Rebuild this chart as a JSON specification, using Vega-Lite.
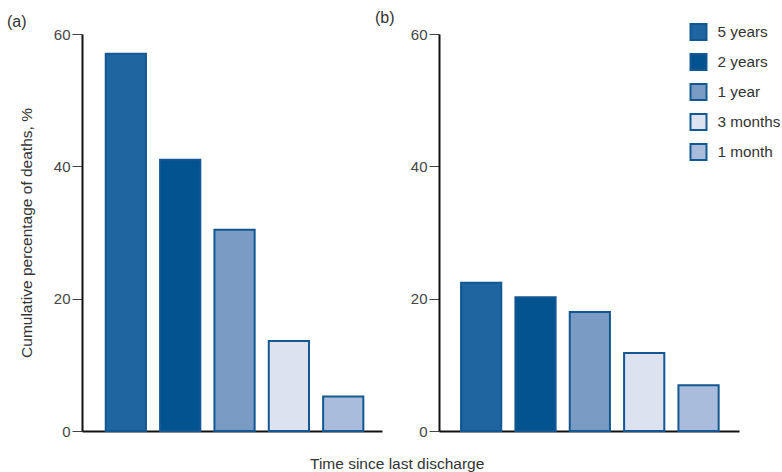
{
  "$schema": "https://vega.github.io/schema/vega-lite/v6.json",
  "padding": {"left": 7, "top": 10, "right": 2, "bottom": 2},
  "background": "white",
  "datasets": {
    "panelA": [
      {"period": "5 years", "value": 57.0},
      {"period": "2 years", "value": 41.0},
      {"period": "1 year", "value": 30.4},
      {"period": "3 months", "value": 13.6},
      {"period": "1 month", "value": 5.2}
    ],
    "panelB": [
      {"period": "5 years", "value": 22.4},
      {"period": "2 years", "value": 20.2},
      {"period": "1 year", "value": 18.0},
      {"period": "3 months", "value": 11.8},
      {"period": "1 month", "value": 6.9}
    ]
  },
  "title": {
    "text": "Time since last discharge",
    "orient": "bottom",
    "anchor": "start",
    "frame": "group",
    "dx": 228,
    "offset": 18,
    "fontSize": 15.5,
    "fontWeight": "normal",
    "font": "Liberation Sans",
    "color": "#333333"
  },
  "config": {
    "view": {"stroke": null},
    "font": "Liberation Sans",
    "concat": {"spacing": 57},
    "axis": {
      "grid": false,
      "domainColor": "#111111",
      "domainWidth": 2,
      "tickColor": "#444444",
      "tickWidth": 1,
      "labelColor": "#444444",
      "labelFontSize": 15,
      "labelFont": "Liberation Sans",
      "titleFont": "Liberation Sans",
      "titleFontWeight": "normal",
      "titleColor": "#333333",
      "titleFontSize": 15.5
    },
    "bar": {"stroke": "#135892", "strokeWidth": 2}
  },
  "bounds": "flush",
  "resolve": {"legend": {"color": "independent"}},
  "hconcat": [
    {
      "width": 300,
      "height": 397,
      "data": {"name": "panelA"},
      "title": {"text": "(a)", "anchor": "start", "frame": "group", "dx": -75, "offset": -3, "fontSize": 16, "fontWeight": "normal", "color": "#333333"},
      "mark": {"type": "bar"},
      "encoding": {
        "x": {
          "field": "period", "type": "nominal",
          "sort": ["5 years", "2 years", "1 year", "3 months", "1 month"],
          "scale": {"paddingInner": 0.26, "paddingOuter": 0.39, "align": 0.56},
          "axis": {"title": null, "labels": false, "ticks": false}
        },
        "y": {
          "field": "value", "type": "quantitative",
          "scale": {"domain": [0, 60], "nice": false},
          "axis": {"title": "Cumulative percentage of deaths, %", "values": [0, 20, 40, 60], "tickSize": 10, "labelPadding": 2, "titlePadding": 18.5}
        },
        "color": {
          "field": "period", "type": "nominal",
          "scale": {
            "domain": ["5 years", "2 years", "1 year", "3 months", "1 month"],
            "range": ["#1f65a0", "#035390", "#7a9bc3", "#dce2ef", "#aabcdb"]
          },
          "legend": null
        }
      }
    },
    {
      "width": 300,
      "height": 397,
      "data": {"name": "panelB"},
      "title": {"text": "(b)", "anchor": "start", "frame": "group", "dx": -64, "offset": -3, "fontSize": 16, "fontWeight": "normal", "color": "#333333"},
      "mark": {"type": "bar"},
      "encoding": {
        "x": {
          "field": "period", "type": "nominal",
          "sort": ["5 years", "2 years", "1 year", "3 months", "1 month"],
          "scale": {"paddingInner": 0.26, "paddingOuter": 0.39, "align": 0.52},
          "axis": {"title": null, "labels": false, "ticks": false}
        },
        "y": {
          "field": "value", "type": "quantitative",
          "scale": {"domain": [0, 60], "nice": false},
          "axis": {"title": null, "values": [0, 20, 40, 60], "tickSize": 10, "labelPadding": 2}
        },
        "color": {
          "field": "period", "type": "nominal",
          "scale": {
            "domain": ["5 years", "2 years", "1 year", "3 months", "1 month"],
            "range": ["#1f65a0", "#035390", "#7a9bc3", "#dce2ef", "#aabcdb"]
          },
          "legend": {
            "orient": "none",
            "legendX": 250.5,
            "legendY": -11,
            "title": null,
            "symbolType": "square",
            "symbolSize": 256,
            "symbolStrokeColor": "#135892",
            "symbolStrokeWidth": 2,
            "labelFontSize": 15.3,
            "labelColor": "#333333",
            "labelOffset": 10,
            "rowPadding": 6,
            "labelLimit": 200
          }
        }
      }
    }
  ]
}
